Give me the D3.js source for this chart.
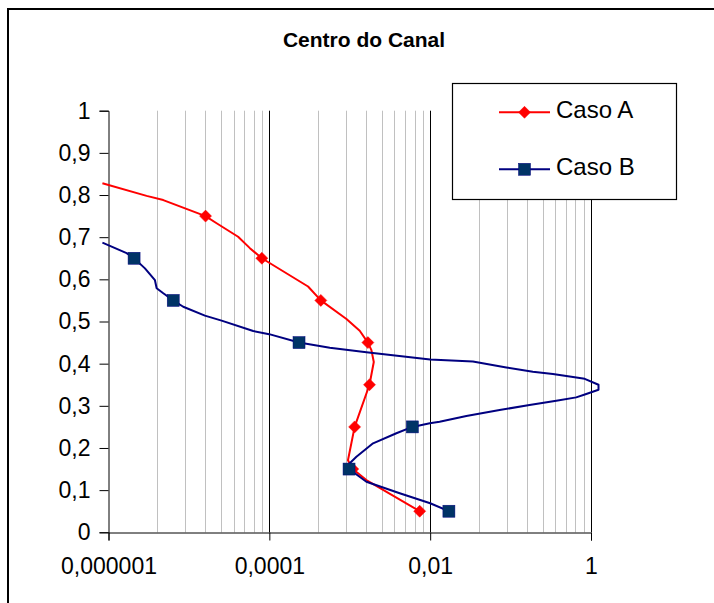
<!DOCTYPE html>
<html>
<head>
<meta charset="utf-8">
<script src="https://cdn.jsdelivr.net/npm/d3@7"></script>
<style>
  html, body { margin: 0; padding: 0; background: #fff; }
  svg { display: block; }
  text { font-family: "Liberation Sans", Arial, sans-serif; fill: #000; }
</style>
</head>
<body>
<svg id="chart" width="714" height="603"></svg>
<script>
// ---- data ----
const title = "Centro do Canal";
const seriesNames = ["Caso A", "Caso B"];

// x axis (log, base 100 style labels)
const xMajorTicks = [1e-6, 1e-4, 1e-2, 1];
const xTickLabels = ["0,000001", "0,0001", "0,01", "1"];
const yTicks = [0, 0.1, 0.2, 0.3, 0.4, 0.5, 0.6, 0.7, 0.8, 0.9, 1];
const yTickLabels = ["0", "0,1", "0,2", "0,3", "0,4", "0,5", "0,6", "0,7", "0,8", "0,9", "1"];

// Caso A - line profile
const caseALineX = [8.4e-7, 2.98e-6, 4.8e-6, 1.61e-5, 2.21e-5, 4.09e-5, 5.73e-5, 8.07e-5, 3.03e-4, 4.37e-4, 9.1e-4, 1.33e-3, 1.68e-3, 1.86e-3, 1.99e-3, 1.76e-3, 1.15e-3, 9.5e-4, 1.09e-3, 1.61e-3, 7.41e-3];
const caseALineY = [0.828, 0.798, 0.788, 0.75, 0.733, 0.701, 0.674, 0.65, 0.583, 0.55, 0.506, 0.478, 0.45, 0.432, 0.404, 0.35, 0.25, 0.171, 0.15, 0.124, 0.05];
// Caso A - markers
const caseAMarkX = [1.61e-5, 8.07e-5, 4.37e-4, 1.68e-3, 1.76e-3, 1.15e-3, 1.09e-3, 7.41e-3];
const caseAMarkY = [0.75, 0.65, 0.55, 0.45, 0.35, 0.25, 0.15, 0.05];

// Caso B - line profile
const caseBLineX = [8.4e-7, 1.68e-6, 2.08e-6, 2.84e-6, 3.78e-6, 3.97e-6, 4.8e-6, 6.38e-6, 8.5e-6, 1.58e-5, 2.55e-5, 6.3e-5, 9.95e-5, 2.34e-4, 5.65e-4, 1.61e-3, 1.0e-2, 3.4e-2, 8.85e-2, 0.189, 0.336, 0.836, 1.24, 1.24, 0.855, 0.655, 0.37, 0.172, 7.3e-2, 2.82e-2, 1.31e-2, 9.9e-3, 6.01e-3, 3.8e-3, 1.95e-3, 1.21e-3, 1.0e-3, 9.8e-4, 1.61e-3, 4.18e-3, 1.0e-2, 1.71e-2];
const caseBLineY = [0.687, 0.662, 0.65, 0.626, 0.598, 0.579, 0.567, 0.55, 0.535, 0.514, 0.502, 0.4775, 0.47, 0.45, 0.438, 0.427, 0.41, 0.405, 0.391, 0.381, 0.3755, 0.364, 0.35, 0.338, 0.3276, 0.32, 0.312, 0.302, 0.29, 0.276, 0.262, 0.2585, 0.25, 0.235, 0.211, 0.179, 0.164, 0.15, 0.12, 0.0925, 0.069, 0.05];
// Caso B - markers
const caseBMarkX = [2.08e-6, 6.38e-6, 2.34e-4, 6.01e-3, 9.8e-4, 1.71e-2];
const caseBMarkY = [0.65, 0.55, 0.45, 0.25, 0.15, 0.05];

// ---- drawing ----
const svg = d3.select("#chart");
const x = d3.scaleLog().domain([1e-6, 1]).range([108.5, 591]);
const y = d3.scaleLinear().domain([0, 1]).range([532.3, 110.7]);

// outer chart border (extends beyond visible frame)
svg.append("rect").attr("x", 8).attr("y", 9).attr("width", 740).attr("height", 640)
  .attr("fill", "none").attr("stroke", "#000").attr("stroke-width", 2);

// title
svg.append("text").attr("x", 364).attr("y", 46.7).attr("text-anchor", "middle")
  .style("font-size", "21px").style("font-weight", "bold").text(title);

// minor gridlines: Excel-style minor steps inside each major (base 100) interval
const minorVals = [];
xMajorTicks.slice(0, -1).forEach(m => { for (let k = 2; k <= 9; k++) minorVals.push(m * k * k); });
svg.append("g").selectAll("line").data(minorVals).join("line")
  .attr("x1", d => Math.round(x(d)) + 0.5).attr("x2", d => Math.round(x(d)) + 0.5)
  .attr("y1", y(1)).attr("y2", y(0))
  .attr("stroke", "#c0c0c0").attr("stroke-width", 1);

// major gridlines
svg.append("g").selectAll("line").data(xMajorTicks.slice(1)).join("line")
  .attr("x1", d => Math.round(x(d)) + 0.5).attr("x2", d => Math.round(x(d)) + 0.5)
  .attr("y1", y(1)).attr("y2", y(0))
  .attr("stroke", "#000").attr("stroke-width", 1);

// y axis
const yAxis = d3.axisLeft(y).tickValues(yTicks).tickSize(9).tickPadding(9)
  .tickFormat((d, i) => yTickLabels[i]);
const gy = svg.append("g").attr("transform", "translate(108.5,0)").call(yAxis);
gy.select(".domain").attr("stroke", "#000");
gy.selectAll(".tick line").attr("stroke", "#000");
gy.selectAll(".tick text").style("font-size", "23px")
  .style("font-family", "'Liberation Sans', Arial, sans-serif").attr("fill", "#000");

// x axis
const xAxis = d3.axisBottom(x).tickValues(xMajorTicks).tickSize(8).tickPadding(17)
  .tickFormat((d, i) => xTickLabels[i]);
const gx = svg.append("g").attr("transform", "translate(0,532.5)").call(xAxis);
gx.select(".domain").attr("stroke", "#000");
gx.selectAll(".tick line").attr("stroke", "#000");
gx.selectAll(".tick text").style("font-size", "23px")
  .style("font-family", "'Liberation Sans', Arial, sans-serif").attr("fill", "#000");

// lines
const line = d3.line().x(d => x(d[0])).y(d => y(d[1]));
const zip = (a, b) => a.map((v, i) => [v, b[i]]);

const redColor = "#ff0000", blueLine = "#000080", blueMark = "#003366";
const diamondPath = "M0,-6L6,0L0,6L-6,0Z";

svg.append("path").datum(zip(caseALineX, caseALineY)).attr("d", line)
  .attr("fill", "none").attr("stroke", redColor).attr("stroke-width", 2).attr("stroke-linejoin", "round");
svg.append("g").selectAll("path").data(zip(caseAMarkX, caseAMarkY)).join("path")
  .attr("transform", d => `translate(${x(d[0])},${y(d[1])})`)
  .attr("d", diamondPath).attr("fill", redColor).attr("stroke", redColor).attr("stroke-width", 0.5);

svg.append("path").datum(zip(caseBLineX, caseBLineY)).attr("d", line)
  .attr("fill", "none").attr("stroke", blueLine).attr("stroke-width", 2).attr("stroke-linejoin", "round");
svg.append("g").selectAll("rect").data(zip(caseBMarkX, caseBMarkY)).join("rect")
  .attr("x", d => x(d[0]) - 6).attr("y", d => y(d[1]) - 6)
  .attr("width", 12).attr("height", 12).attr("fill", blueMark).attr("stroke", blueLine).attr("stroke-width", 0.5);

// legend
const lg = svg.append("g");
lg.append("rect").attr("x", 452.5).attr("y", 83.5).attr("width", 224).attr("height", 116)
  .attr("fill", "#fff").attr("stroke", "#000").attr("stroke-width", 1.2);
const legendRows = [112.3, 169.3];
seriesNames.forEach((name, i) => {
  const cy = legendRows[i];
  const col = i === 0 ? redColor : blueLine;
  lg.append("line").attr("x1", 499).attr("x2", 550).attr("y1", cy).attr("y2", cy)
    .attr("stroke", col).attr("stroke-width", 2);
  if (i === 0) {
    lg.append("path").attr("transform", `translate(524.5,${cy})`).attr("d", diamondPath)
      .attr("fill", redColor).attr("stroke", redColor).attr("stroke-width", 0.5);
  } else {
    lg.append("rect").attr("x", 518.5).attr("y", cy - 6).attr("width", 12).attr("height", 12)
      .attr("fill", blueMark).attr("stroke", blueLine).attr("stroke-width", 0.5);
  }
  lg.append("text").attr("x", 556).attr("y", cy + 5.5)
    .style("font-size", "24px").text(name);
});
</script>
</body>
</html>
